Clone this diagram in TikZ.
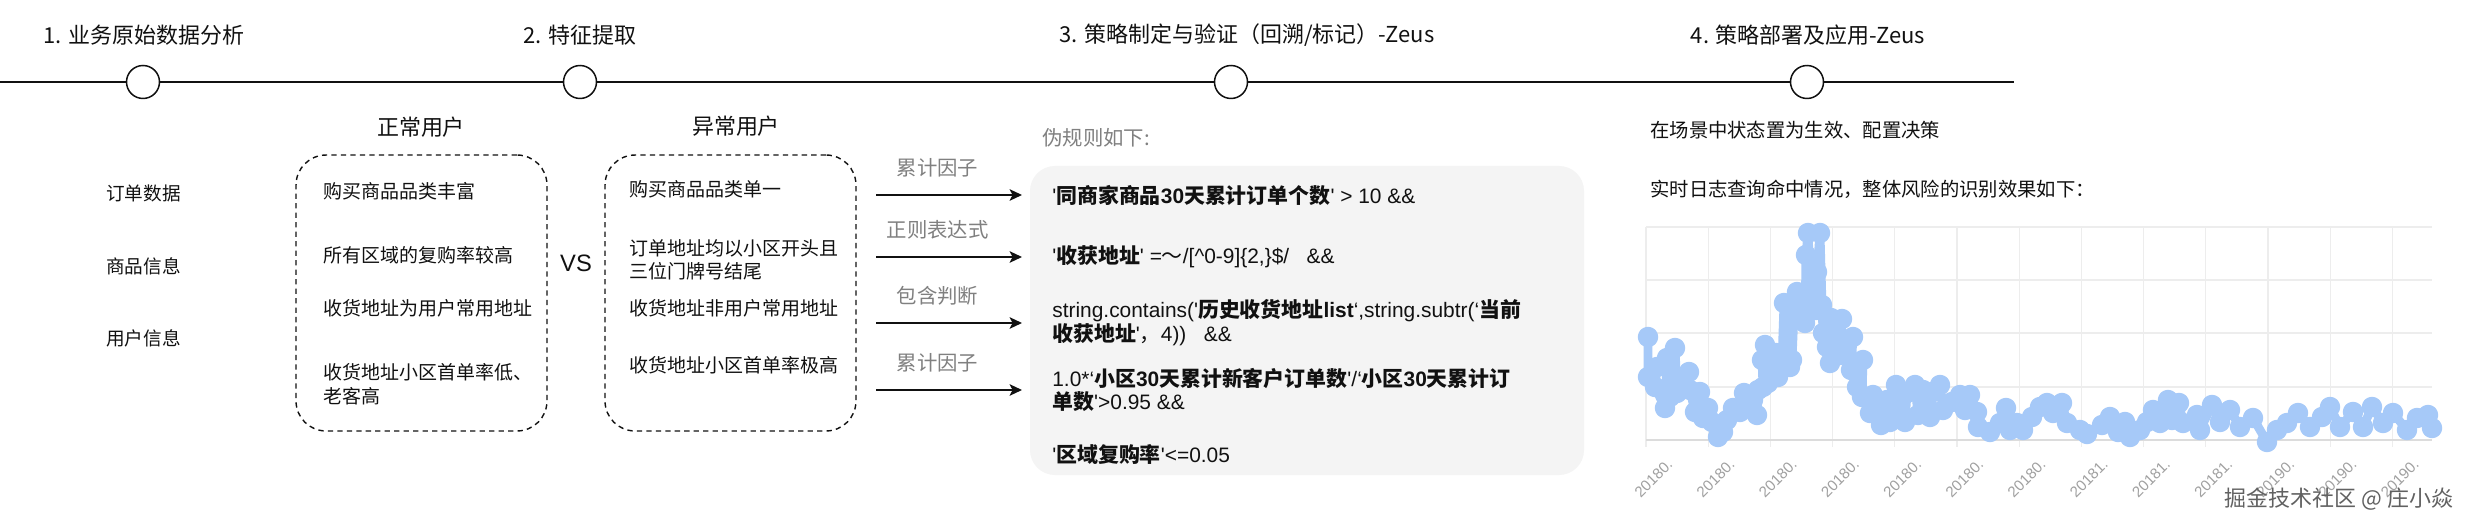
\documentclass[tikz,border=0pt]{standalone}
\usepackage{fontspec}
\setmainfont{Liberation Sans}[Ligatures=TeXOff]
\newfontfamily\zhfont{Noto Sans CJK SC}
\usetikzlibrary{arrows.meta}
\definecolor{ink}{HTML}{111111}
\definecolor{note}{HTML}{808080}
\definecolor{codebg}{HTML}{F4F4F4}
\definecolor{series}{HTML}{A6C9F8}
\definecolor{gridline}{HTML}{EDEDED}
\definecolor{axisline}{HTML}{DCDCDC}
\definecolor{ticktext}{HTML}{A0A0A0}
\newcommand{\zh}[1]{{\zhfont #1}}
\newcommand{\zb}[1]{{\zhfont\bfseries #1}}

\begin{document}
\begin{tikzpicture}[
  x=0.02cm, y=-0.02cm,
  % Node styles
  stage/.style={
    font=\zhfont\fontsize{12.5}{15}\selectfont,
    text=ink,
    inner sep=0pt,
  },
  milestone/.style={
    circle,
    draw=ink,
    fill=white,
    minimum size=0.66cm,
    inner sep=0pt,
    line width=0.85pt,
  },
  source/.style={
    font=\zhfont\fontsize{10.6}{13}\selectfont,
    text=ink,
    anchor=west,
    inner sep=0pt,
  },
  group box/.style={
    rectangle,
    draw=ink,
    dash pattern=on 3pt off 2.4pt,
    line width=0.8pt,
    rounded corners=0.6cm,
    minimum width=5.02cm,
    minimum height=5.52cm,
  },
  group title/.style={
    font=\zhfont\fontsize{12.5}{15}\selectfont,
    text=ink,
    inner sep=0pt,
  },
  item/.style={
    font=\zhfont\fontsize{10.8}{13.4}\selectfont,
    text=ink,
    anchor=west,
    align=left,
    inner sep=0pt,
  },
  factor/.style={
    font=\zhfont\fontsize{11.6}{14}\selectfont,
    text=note,
    inner sep=0pt,
  },
  rule/.style={
    font=\fontsize{11.9}{13.6}\selectfont,
    text=ink,
    anchor=west,
    align=left,
    inner sep=0pt,
  },
  info/.style={
    font=\zhfont\fontsize{11}{13}\selectfont,
    text=ink,
    anchor=west,
    inner sep=0pt,
  },
  tick/.style={
    font=\fontsize{8.6}{10}\selectfont,
    text=ticktext,
    anchor=east,
    rotate=45,
    inner sep=0pt,
  },
  % Edge styles
  timeline/.style={
    draw=ink,
    line width=1.1pt,
  },
  flow/.style={
    draw=ink,
    line width=1.1pt,
    -{Stealth[length=7pt, width=6.5pt, inset=1.6pt]},
    shorten >=0.6cm,
  },
  grid/.style={
    draw=gridline,
    line width=0.7pt,
  },
]

  \useasboundingbox (0,0) rectangle (2486,530);
  \fill[white] (0,0) rectangle (2486,530);

  % Timeline with four stages
  \coordinate (tl-start) at (0,82);
  \coordinate (tl-end) at (2014,82);
  \draw[timeline] (tl-start) -- (tl-end);

  \foreach \i/\x in {1/143, 2/580, 3/1231, 4/1807} {
    \node[milestone] (M-\i) at (\x,82) {};
  }

  \node[stage] (S-1) at (144,35) {1. 业务原始数据分析};
  \node[stage] (S-2) at (580,35) {2. 特征提取};
  \node[stage] (S-3) at (1247,35) {3. 策略制定与验证（回溯/标记）-Zeus};
  \node[stage] (S-4) at (1808,35) {4. 策略部署及应用-Zeus};

  % Stage 1: data sources
  \node[source] (src-order) at (106,193) {订单数据};
  \node[source] (src-goods) at (106,266) {商品信息};
  \node[source] (src-user) at (106,338) {用户信息};

  % Stage 2: normal vs abnormal users
  \node[group box] (normal) at (421.5,293) {};
  \node[group box] (abnormal) at (730.5,293) {};
  \node[group title] (normal-title) at (421,127) {正常用户};
  \node[group title] (abnormal-title) at (736,126) {异常用户};
  \node[font=\fontsize{13.5}{16}\selectfont, text=ink, inner sep=0pt] (vs) at (576,263) {VS};

  \node[item] (N-1) at (323,191) {购买商品品类丰富};
  \node[item] (N-2) at (323,255) {所有区域的复购率较高};
  \node[item] (N-3) at (323,308) {收货地址为用户常用地址};
  \node[item] (N-4) at (323,384) {收货地址小区首单率低、\\老客高};

  \node[item] (A-1) at (629,189) {购买商品品类单一};
  \node[item] (A-2) at (629,260) {订单地址均以小区开头且\\三位门牌号结尾};
  \node[item] (A-3) at (629,308) {收货地址非用户常用地址};
  \node[item] (A-4) at (629,365) {收货地址小区首单率极高};

  % Stage 3: pseudo rules
  \node[factor, anchor=west] (rules-note) at (1042,138) {伪规则如下:};
  \fill[codebg, rounded corners=0.5cm] (1030,166) rectangle (1584,475);

  \node[rule] (R-1) at (1052,195)
    {'\zb{同商家商品}\textbf{30}\zb{天累计订单个数}' > 10 \&\&};
  \node[rule] (R-2) at (1052,257)
    {'\zb{收获地址}' =\zh{～}/[\textasciicircum 0-9]\{2,\}\$/\ \ \ \&\&};
  \node[rule] (R-3) at (1052,323)
    {string.contains('\zb{历史收货地址}\textbf{list}‘,string.subtr(‘\zb{当前}\\\zb{收获地址}'\zh{，}4))\ \ \ \&\&};
  \node[rule] (R-4) at (1052,390)
    {1.0*‘\zb{小区}\textbf{30}\zb{天累计新客户订单数}'/‘\zb{小区}\textbf{30}\zb{天累计订}\\\zb{单数}'>0.95 \&\&};
  \node[rule] (R-5) at (1052,455) {'\zb{区域复购率}'<=0.05};

  % Arrows from features to rules
  \foreach \i/\y/\f in {1/195/累计因子, 2/257/正则表达式, 3/323/包含判断, 4/390/累计因子} {
    \coordinate (T-\i) at (876,\y);
    \draw[flow] (T-\i) -- (R-\i.west)
      node[factor, pos=0.35, yshift=15.5pt] (F-\i) {\f};
  }

  % Stage 4: deployment and chart
  \node[info] (deploy) at (1650,130) {在场景中状态置为生效、配置决策};
  \node[info] (effect) at (1650,189) {实时日志查询命中情况，整体风险的识别效果如下：};

  \pgfmathsetmacro{\gx}{1646}     % left edge of plot
  \pgfmathsetmacro{\gstep}{62.2}  % spacing of vertical grid lines

  \foreach \y in {227,280,333,387} {
    \draw[grid] (\gx,\y) -- (2432,\y);
  }
  \foreach \i in {0,...,12} {
    \draw[grid] ({\gx+\i*\gstep},227) -- ({\gx+\i*\gstep},447);
  }
  \draw[draw=axisline, line width=0.8pt] (\gx,440) -- (2432,440);

  \foreach \i/\t in {0/20180.,1/20180.,2/20180.,3/20180.,4/20180.,5/20180.,6/20180.,
                     7/20181.,8/20181.,9/20181.,10/20190.,11/20190.,12/20190.} {
    \node[tick] (X-\i) at ({\gx+\i*\gstep+24},462) {\t};
  }

  \draw[series, line width=5pt, line join=round, line cap=round]
    plot[mark=*, mark size=3.3pt, mark options={draw=none, fill=series}] coordinates {
    (1648,337) (1648,377) (1657,367) (1655,387) (1665,408) (1667,358) (1670,397)
    (1675,348) (1677,393) (1683,377) (1689,372) (1690,390) (1695,412) (1700,392)
    (1703,418) (1708,408) (1712,422) (1718,437) (1723,432) (1727,420) (1733,408)
    (1740,412) (1744,393) (1748,407) (1753,400) (1757,415) (1758,390) (1763,387)
    (1762,360) (1765,345) (1768,383) (1773,362) (1776,353) (1778,377) (1782,362)
    (1784,303) (1787,357) (1790,367) (1792,360) (1794,313) (1797,292) (1800,310)
    (1803,297) (1805,323) (1806,255) (1808,233) (1811,297) (1813,280) (1816,310)
    (1817,272) (1820,233) (1822,305) (1823,333) (1827,347) (1830,363) (1831,318)
    (1835,340) (1842,319) (1840,355) (1847,340) (1853,337) (1851,370) (1857,387)
    (1863,360) (1862,397) (1870,413) (1873,395) (1881,425) (1887,400) (1890,422)
    (1896,385) (1900,410) (1905,422) (1907,393) (1915,385) (1918,415) (1923,390)
    (1930,417) (1933,392) (1940,385) (1943,410) (1952,402) (1960,395) (1965,410)
    (1970,395) (1977,412) (1978,427) (1990,432) (2000,423) (2006,408) (2010,430)
    (2017,423) (2023,430) (2032,417) (2040,407) (2047,403) (2053,413) (2062,403)
    (2067,423) (2080,430) (2087,434) (2102,425) (2110,417) (2118,432) (2125,422)
    (2130,437) (2140,430) (2147,422) (2153,410) (2160,423) (2168,400) (2172,420)
    (2179,403) (2183,423) (2197,415) (2200,430) (2212,405) (2220,422) (2230,410)
    (2240,427) (2253,418) (2267,442) (2277,430) (2287,423) (2298,413) (2310,427)
    (2322,417) (2330,407) (2340,427) (2353,412) (2363,427) (2372,407) (2383,423)
    (2393,413) (2407,430) (2417,418) (2428,415) (2432,428)
  };

  \node[font=\zhfont\fontsize{12.5}{15}\selectfont, text=black!62, inner sep=0pt]
    (watermark) at (2339,499) {掘金技术社区 @ 庄小焱};

\end{tikzpicture}
\end{document}
